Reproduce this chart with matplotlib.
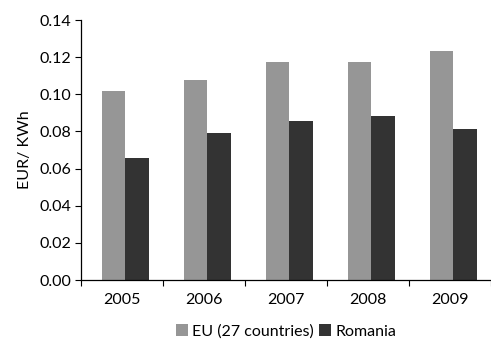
import matplotlib
matplotlib.use("Agg")
import matplotlib.pyplot as plt
import numpy as np

years = ["2005", "2006", "2007", "2008", "2009"]
eu_prices = [0.1018, 0.1077, 0.1174, 0.1174, 0.1233]
romania_prices = [0.0657, 0.0792, 0.0856, 0.0883, 0.0813]
series_labels = ["EU (27 countries)", "Romania"]
y_ticks = [0.00, 0.02, 0.04, 0.06, 0.08, 0.10, 0.12, 0.14]

plt.rcParams["font.family"] = ["Lato", "DejaVu Sans"]
fs = 11.5

fig = plt.figure(figsize=(4.91, 3.47), dpi=100)
ax = fig.add_axes([81 / 491, 1 - 280 / 347, 410 / 491, 260 / 347])

x = np.arange(len(years))
w = 0.29
offset = 0.04
ax.bar(x - w / 2 + offset, eu_prices, width=w, color="#969696", label=series_labels[0])
ax.bar(x + w / 2 + offset, romania_prices, width=w, color="#333333", label=series_labels[1])

ax.set_xlim(-0.5, len(years) - 0.5)
ax.set_ylim(0, 0.14)
ax.set_yticks(y_ticks)
ax.set_yticklabels([f"{v:.2f}" for v in y_ticks], fontsize=fs)
ax.set_xticks(x)
ax.set_xticklabels(years, fontsize=fs)
ax.set_xticks(np.arange(len(years) + 1) - 0.5, minor=True)
ax.tick_params(axis="x", which="major", length=0, pad=9)
ax.tick_params(axis="x", which="minor", length=4, width=0.8, direction="out")
ax.tick_params(axis="y", length=4, width=0.8, direction="out", pad=3)

for side in ["top", "right"]:
    ax.spines[side].set_visible(False)
for side in ["left", "bottom"]:
    ax.spines[side].set_linewidth(0.9)

ax.set_ylabel("EUR/ KWh", fontsize=fs, labelpad=5)

ax.legend(loc="upper center", bbox_to_anchor=(0.5, -0.115), ncol=2, frameon=False,
          fontsize=fs, handlelength=0.75, handleheight=0.75, handletextpad=0.3,
          columnspacing=0.3)

fig.savefig("out.png", dpi=100)
